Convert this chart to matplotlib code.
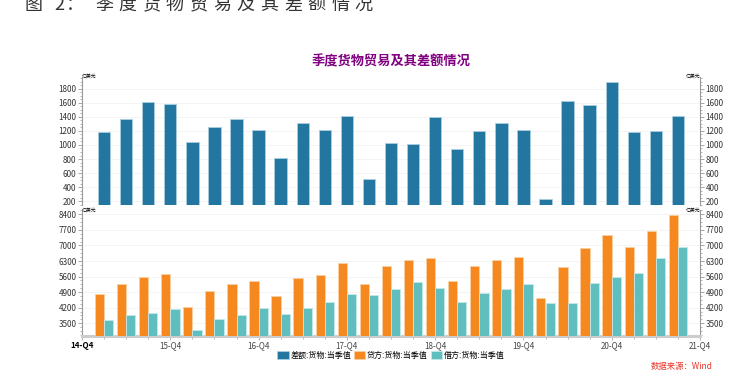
import matplotlib
matplotlib.use('Agg')
import matplotlib.pyplot as plt
import numpy as np
from matplotlib.patches import Patch
from matplotlib.ticker import MultipleLocator

plt.rcParams['font.family'] = ['Noto Sans CJK SC', 'DejaVu Sans']

# ── Data (亿美元, 15-Q1 .. 21-Q3) ───────────────────────────────────────────────
balance = [1190, 1376, 1605, 1581, 1038, 1262, 1371, 1214, 819, 1319, 1210, 1414, 514,
           1033, 1010, 1395, 948, 1205, 1319, 1219, 229, 1619, 1562, 1890, 1190, 1200, 1414]
credit = [4819, 5253, 5583, 5718, 4234, 4954, 5253, 5418, 4729, 5523, 5673, 6212, 5283,
          6070, 6332, 6437, 5403, 6093, 6347, 6482, 4639, 6033, 6872, 7471, 6947, 7636, 8355]
debit = [3635, 3890, 3980, 4129, 3200, 3680, 3875, 4204, 3920, 4189, 4474, 4804, 4759,
         5044, 5343, 5073, 4444, 4879, 5029, 5268, 4414, 4414, 5298, 5568, 5763, 6422, 6932]
xlabels = ['14-Q4', '15-Q4', '16-Q4', '17-Q4', '18-Q4', '19-Q4', '20-Q4', '21-Q4']
names = ['差额:货物:当季值', '贷方:货物:当季值', '借方:货物:当季值']

BLUE, ORANGE, TEAL = '#22769f', '#f5881e', '#60bebe'
EDGES = ['#a9cfe0', '#fbcfa2', '#c4e9e9']

x = np.arange(1, len(balance) + 1)

fig = plt.figure(figsize=(7.52, 3.86), dpi=100)
W, H = 752, 386


def px_axes(left, top, right, bottom):
    return fig.add_axes([left / W, 1 - bottom / H, (right - left) / W, (bottom - top) / H])


ax1 = px_axes(82, 76.7, 700, 204.8)
ax2 = px_axes(82, 209.9, 700, 335.5)

ax1.bar(x, balance, width=0.56, color=BLUE, edgecolor=EDGES[0], linewidth=0.6, zorder=3)
ax2.bar(x - 0.21, credit, width=0.42, color=ORANGE, edgecolor=EDGES[1], linewidth=0.6, zorder=3)
ax2.bar(x + 0.21, debit, width=0.42, color=TEAL, edgecolor=EDGES[2], linewidth=0.6, zorder=3)

ax1.set_ylim(150, 1970)
ax1.set_yticks(range(200, 1801, 200))
ax2.set_ylim(2950, 8600)
ax2.set_yticks(range(3500, 8401, 700))

for ax, minor in ((ax1, 50), (ax2, 175)):
    ax.set_xlim(0, 28)
    ax.yaxis.set_minor_locator(MultipleLocator(minor))
    ax.grid(axis='y', color='#f3f3f3', linewidth=0.6, zorder=0)
    for s in ('top', 'bottom'):
        ax.spines[s].set_visible(False)
    for s in ('left', 'right'):
        ax.spines[s].set_color('#999999')
        ax.spines[s].set_linewidth(0.8)
    ax.tick_params(axis='y', which='both', left=True, right=True, labelleft=True,
                   labelright=True, colors='#999999', labelcolor='#333333',
                   labelsize=5.8, pad=1)
    ax.tick_params(axis='y', which='major', length=3, width=0.6)
    ax.tick_params(axis='y', which='minor', length=1.5, width=0.5)
    ax.text(0, 1, '亿美元', transform=ax.transAxes, fontsize=3.5, ha='left', va='center')
    ax.text(1, 1, '亿美元', transform=ax.transAxes, fontsize=3.5, ha='right', va='center')

ax1.set_xticks([])
ax2.spines['bottom'].set_visible(True)
ax2.spines['bottom'].set_color('#cccccc')
ax2.spines['bottom'].set_linewidth(2.2)
ax2.set_xticks(range(0, 29, 4))
ax2.set_xticks(range(0, 29), minor=True)
ax2.set_xticklabels(xlabels)
ax2.tick_params(axis='x', which='both', colors='#999999', labelcolor='#444444',
                labelsize=5.8, pad=1, width=0.5)
ax2.tick_params(axis='x', which='major', length=3)
ax2.tick_params(axis='x', which='minor', length=2)
ax2.get_xticklabels()[0].set_fontweight('bold')
ax2.get_xticklabels()[0].set_color('#000000')

# chart title
fig.text(391 / W, 1 - 61 / H, '季度货物贸易及其差额情况', fontsize=9.5, fontweight='bold',
         color='#800080', ha='center', va='center')

# header, partly cut by top border
header = '图 2：季度货物贸易及其差额情况'
hx = [25, 54, 66] + [95 + 23.6 * i for i in range(12)]
for ch, xx in zip(header.replace(' ', ''), hx):
    fig.text(xx / W, 1 - 5 / H, ch, fontsize=13, color='#333333', ha='left',
             va='center', fontweight='light')

# legend
handles = [Patch(facecolor=c, edgecolor=e, linewidth=0.6)
           for c, e in zip((BLUE, ORANGE, TEAL), EDGES)]
fig.legend(handles, names, loc='center', bbox_to_anchor=(391 / W, 1 - 355 / H), ncol=3,
           frameon=False, fontsize=5.8, handlelength=1.4, handleheight=1.1,
           handletextpad=0.2, columnspacing=0.4)

fig.text(682 / W, 1 - 367 / H, '数据来源：Wind', fontsize=6, color='#e8332a',
         style='italic', ha='center', va='center')

fig.savefig('out.png', dpi=100)
